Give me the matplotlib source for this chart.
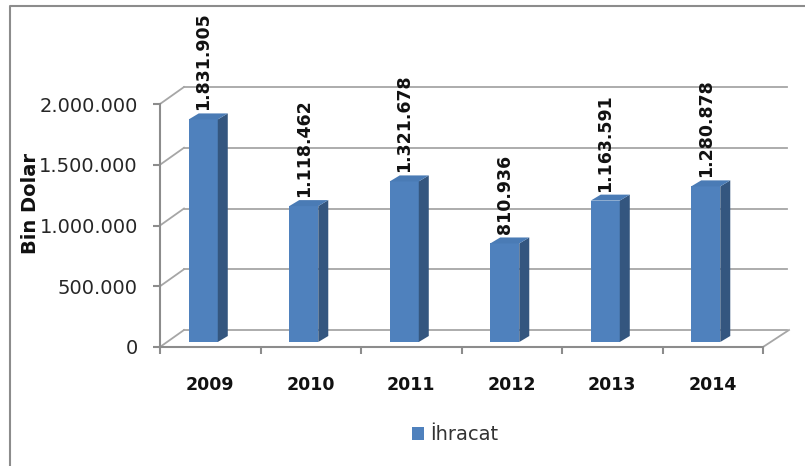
import matplotlib
matplotlib.use('Agg')
import matplotlib.pyplot as plt
from matplotlib.lines import Line2D
from matplotlib.patches import Polygon
from matplotlib.transforms import offset_copy, IdentityTransform

years = ['2009', '2010', '2011', '2012', '2013', '2014']
exports = [1831905, 1118462, 1321678, 810936, 1163591, 1280878]
y_ticks = [0, 500000, 1000000, 1500000, 2000000]
series_name = 'İhracat'
y_label = 'Bin Dolar'


def fmt(v):
    return f'{v:,}'.replace(',', '.')


W, H = 805, 466
fig = plt.figure(figsize=(W / 100, H / 100), dpi=100)
ax = fig.add_axes([160 / W, (H - 347) / H, (763 - 160) / W, (347 - 104) / H])
n = len(years)
ax.set_xlim(0, n)
ax.set_ylim(0, y_ticks[-1])
ax.patch.set_visible(False)

axis_col = '#8c8c8c'
grid_col = '#a6a6a6'
for s in ['top', 'right']:
    ax.spines[s].set_visible(False)
for s in ['left', 'bottom']:
    ax.spines[s].set_color(axis_col)
    ax.spines[s].set_linewidth(1.5)
    ax.spines[s].set_zorder(5)

ax.set_yticks(y_ticks)
ax.set_yticklabels([fmt(v) for v in y_ticks])
ax.set_xticks(range(n + 1))
ax.set_xticklabels([])
ax.set_xticks([i + 0.5 for i in range(n)], minor=True)
ax.set_xticklabels(years, minor=True, fontsize=12.5, fontweight='bold')
ax.tick_params(axis='y', length=5, width=1.5, color=axis_col, pad=11,
               labelsize=14, labelcolor='#262626')
ax.tick_params(axis='x', which='major', length=5, width=1.5, color=axis_col)
ax.tick_params(axis='x', which='minor', length=0, pad=21, labelcolor='#111111')

# back wall / floor
dx, dy = 24, 17
back = offset_copy(ax.transData, fig=fig, x=dx, y=dy, units='dots')
for v in y_ticks:
    ax.add_line(Line2D([0, n], [v, v], transform=back, color=grid_col, lw=1.3,
                       clip_on=False, zorder=0))
    p = ax.transData.transform((0, v))
    fig.add_artist(Line2D([p[0], p[0] + dx], [p[1], p[1] + dy],
                          transform=IdentityTransform(), color=grid_col, lw=1.3, zorder=0))
p = ax.transData.transform((n, 0))
fig.add_artist(Line2D([p[0], p[0] + dx + 2], [p[1], p[1] + dy],
                      transform=IdentityTransform(), color=grid_col, lw=1.3, zorder=0))

# bars
bw = 0.289
bx, by = -7, 5
bar_off = offset_copy(ax.transData, fig=fig, x=bx, y=by, units='dots')
xs = [i + 0.5 for i in range(n)]
bars = ax.bar(xs, exports, width=bw, color='#4f81bd', transform=bar_off,
              zorder=3, label=series_name, clip_on=False)
ddx, ddy = 10, 6
for x, v in zip(xs, exports):
    x0, y0 = bar_off.transform((x - bw / 2, 0))
    x1, y1 = bar_off.transform((x + bw / 2, v))
    side = Polygon([(x1, y0), (x1, y1), (x1 + ddx, y1 + ddy), (x1 + ddx, y0 + ddy)],
                   closed=True, transform=IdentityTransform(), facecolor='#34567f',
                   edgecolor='none', zorder=3)
    top = Polygon([(x0, y1), (x1, y1), (x1 + ddx, y1 + ddy), (x0 + ddx, y1 + ddy)],
                  closed=True, transform=IdentityTransform(), facecolor='#4a7bb5',
                  edgecolor='none', zorder=3)
    fig.add_artist(side)
    fig.add_artist(top)
    ax.annotate(fmt(v), xy=(x, v), xytext=(bx, by + 9), textcoords='offset pixels',
                rotation=90, ha='center', va='bottom', fontsize=12.5, fontweight='bold',
                color='#111111', annotation_clip=False)

ax.set_xlim(0, n)
ax.set_ylim(0, y_ticks[-1])

fig.text(30 / W, 1 - 203 / H, y_label, rotation=90, ha='center', va='center',
         fontsize=14, fontweight='bold', color='#111111')

fig.legend(handles=[bars], labels=[series_name], loc='center',
           bbox_to_anchor=(455 / W, 1 - 435 / H), frameon=False, fontsize=14,
           handlelength=0.6, handleheight=0.6, handletextpad=0.3,
           labelcolor='#333333')

# chart frame
fig.add_artist(Line2D([10 / W, 10 / W, 1], [0, 1 - 6 / H, 1 - 6 / H],
                      transform=fig.transFigure, color=axis_col, lw=1.5))

fig.savefig('out.png', dpi=100)
